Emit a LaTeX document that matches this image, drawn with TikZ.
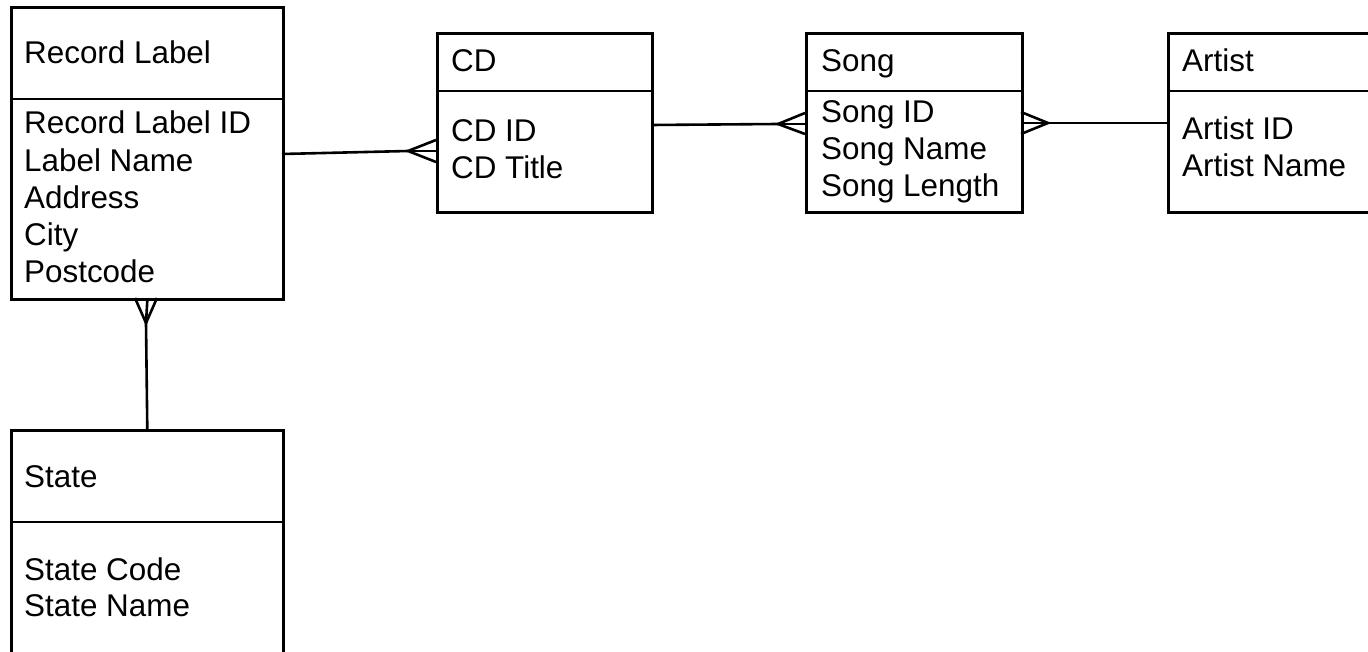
\documentclass[tikz,border=0pt]{standalone}
\usepackage{fontspec}
\setmainfont{Liberation Sans}
\begin{document}
\begin{tikzpicture}[x=1pt,y=-1pt,
  entity/.style={draw, line width=2.6pt, rectangle, inner sep=0pt, anchor=north west},
  divider/.style={line width=2.6pt},
  lnk/.style={line width=2.6pt},
  txt/.style={anchor=base west, inner sep=0pt, font=\fontsize{31.4}{37}\selectfont}]
\useasboundingbox (0,0) rectangle (1368,652);

% entity boxes
\node[entity, minimum width=272pt, minimum height=292pt] (rl) at (10,6) {};
\node[entity, minimum width=272pt, minimum height=240pt] (st) at (10,429) {};
\node[entity, minimum width=215pt, minimum height=179pt] (cd) at (436,32) {};
\node[entity, minimum width=216pt, minimum height=179pt] (song) at (805,32) {};
\node[entity, minimum width=230pt, minimum height=179pt] (art) at (1167,32) {};

% header dividers
\draw[divider] (rl.west |- 0,99) -- (rl.east |- 0,99);
\draw[divider] (st.west |- 0,522) -- (st.east |- 0,522);
\draw[divider] (cd.west |- 0,91) -- (cd.east |- 0,91);
\draw[divider] (song.west |- 0,91) -- (song.east |- 0,91);
\draw[divider] (art.west |- 0,91) -- (art.east |- 0,91);

% titles
\node[txt] (rl-t) at (24,64) {Record Label};
\node[txt] (st-t) at (24,487) {State};
\node[txt] (cd-t) at (451,72) {CD};
\node[txt] (song-t) at (821,72) {Song};
\node[txt] (art-t) at (1182,72) {Artist};

% attributes
\foreach \t [count=\i] in {Record Label ID, Label Name, Address, City, Postcode}
  \node[txt] (rl-a\i) at (24,{134+(\i-1)*37.2}) {\t};
\foreach \t [count=\i] in {State Code, State Name}
  \node[txt] (st-a\i) at (24,{580+(\i-1)*36.5}) {\t};
\foreach \t [count=\i] in {CD ID, CD Title}
  \node[txt] (cd-a\i) at (451,{142+(\i-1)*36.5}) {\t};
\foreach \t [count=\i] in {Song ID, Song Name, Song Length}
  \node[txt] (song-a\i) at (821,{123+(\i-1)*37}) {\t};
\foreach \t [count=\i] in {Artist ID, Artist Name}
  \node[txt] (art-a\i) at (1182,{140+(\i-1)*37}) {\t};

% crow's foot apexes
\coordinate (f1) at (408,151);
\coordinate (f2) at (778,124);
\coordinate (f3) at (1048,123);
\coordinate (f4) at (146,323);

% Record Label -- CD (many CDs)
\draw[lnk] (282,154) -- (f1);
\draw[lnk] (436,140) -- (f1) -- (436,162);
\draw[lnk] (f1) -- (436,151);

% CD -- Song (many songs)
\draw[lnk] (651,125) -- (f2);
\draw[lnk] (805,113) -- (f2) -- (805,134);
\draw[lnk] (f2) -- (805,124);

% Song -- Artist (many songs)
\draw[lnk] (f3) -- (1167,123);
\draw[lnk] (1021,112) -- (f3) -- (1021,134);
\draw[lnk] (f3) -- (1021,123);

% State -- Record Label (many labels)
\draw[lnk] (st.north) -- (f4);
\draw[lnk] (135,298) -- (f4) -- (157,298);
\draw[lnk] (f4) -- (rl.south);
\end{tikzpicture}
\end{document}
